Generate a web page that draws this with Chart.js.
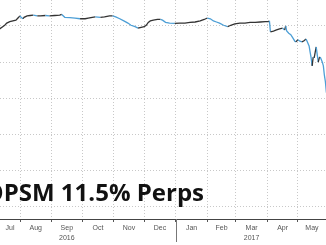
<!DOCTYPE html>
<html>
<head>
<meta charset="utf-8">
<script src="https://cdn.jsdelivr.net/npm/chart.js@4/dist/chart.umd.min.js"></script>
<style>
  html, body { margin: 0; padding: 0; background: #fff; }
  #wrap { width: 326px; height: 245px; }
</style>
</head>
<body>
<div id="wrap"><canvas id="perps" width="326" height="245"></canvas></div>
<script>
/*
 * OPSM 11.5% perps price, Jul 2016 - May 2017
 * x values are days since 1 Jul 2016
 */

const days = [11, 14, 16, 18, 21, 24, 27, 29, 31, 32, 34, 35, 38, 41, 44, 48, 51, 56, 60, 65, 70, 72, 75, 80, 85, 90, 95, 98, 102, 105, 110, 114, 119, 122, 125, 129, 133, 137, 140, 144, 147, 150, 153, 155, 157, 159, 162, 166, 169, 171, 174, 178, 183, 188, 193, 198, 203, 208, 212, 215, 218, 221, 224, 227, 231, 235, 238, 242, 247, 252, 257, 262, 267, 272, 275, 276, 277, 280, 283, 286, 289, 291, 292, 293, 295, 297, 299, 301, 302, 304, 306, 308, 310, 312, 313, 315, 316, 317, 318, 319, 320, 321, 322, 323, 324, 325, 326, 328, 329, 330, 331, 332]
const prices = [99.6, 99.9, 100.1, 100.4, 100.6, 100.7, 100.8, 101.1, 101.4, 101.2, 101.0, 101.2, 101.4, 101.45, 101.5, 101.4, 101.4, 101.45, 101.4, 101.45, 101.5, 101.6, 101.2, 101.15, 101.1, 101.0, 101.0, 101.1, 101.2, 101.25, 101.2, 101.25, 101.4, 101.4, 101.25, 101.0, 100.7, 100.4, 100.1, 99.9, 99.7, 99.8, 99.9, 100.1, 100.5, 100.7, 100.8, 100.9, 100.9, 100.8, 100.5, 100.4, 100.35, 100.4, 100.4, 100.5, 100.55, 100.7, 100.9, 101.1, 101.0, 100.7, 100.55, 100.4, 100.1, 99.9, 100.1, 100.3, 100.4, 100.4, 100.5, 100.5, 100.55, 100.6, 100.6, 100.7, 99.2, 99.3, 99.45, 99.6, 99.7, 99.45, 100.0, 99.3, 99.0, 98.8, 98.35, 97.9, 97.8, 98.1, 97.9, 97.8, 97.95, 98.2, 97.9, 97.25, 96.4, 95.6, 94.5, 95.7, 95.6, 96.4, 97.1, 96.0, 95.0, 95.6, 95.7, 95.0, 94.5, 93.2, 92.3, 90.8]

const monthStarts = [31, 62, 92, 123, 153, 184, 215, 243, 274, 304]
const monthNames = ["Jul", "Aug", "Sep", "Oct", "Nov", "Dec", "Jan", "Feb", "Mar", "Apr", "May"]
const yearLabels = { Sep: "2016", Mar: "2017" }
const yearStart = 184
const gridLevels = [75, 80, 85, 90, 95, 100]

const xMin = 11.35
const xMax = 331.6

// label sits in the middle of the visible part of each month
let edges = [xMin].concat(monthStarts, [xMax])
let monthMids = monthNames.map((m, i) => (edges[i] + edges[i + 1]) / 2)

let points = days.map((d, i) => ({ x: d, y: prices[i] }))

const blue = "#4d9fd6"
const dark = "#333333"

let perpsOverlay = {
    id: "perpsOverlay",
    afterDraw(chart) {
        let ctx = chart.ctx
        let xs = chart.scales.x
        let px = Math.round(xs.getPixelForValue(yearStart)) + 0.5
        ctx.save()
        ctx.strokeStyle = "#777"
        ctx.lineWidth = 1
        ctx.beginPath()
        ctx.moveTo(px, chart.chartArea.bottom)
        ctx.lineTo(px, 242)
        ctx.stroke()

        ctx.fillStyle = "#111"
        ctx.font = "bold 24px 'Open Sans'"
        ctx.textAlign = "right"
        ctx.textBaseline = "alphabetic"
        ctx.fillText("OPSM 11.5% Perps", 204, 201)
        ctx.restore()
    }
}

let perpsConfig = {
    type: "line",
    data: {
        datasets: [{
            data: points,
            borderWidth: 1.3,
            borderColor: dark,
            pointRadius: 0,
            tension: 0,
            segment: {
                borderColor: c => c.p1.parsed.y < c.p0.parsed.y ? blue : dark
            }
        }]
    },
    options: {
        responsive: false,
        animation: false,
        layout: { padding: 0 },
        plugins: { legend: { display: false }, tooltip: { enabled: false } },
        scales: {
            x: {
                type: "linear",
                min: xMin,
                max: xMax,
                afterBuildTicks: s => {
                    let t = monthStarts.map(v => ({ value: v, edge: true }))
                    monthMids.forEach((v, i) => t.push({ value: v, name: monthNames[i] }))
                    t.sort((a, b) => a.value - b.value)
                    s.ticks = t
                },
                afterFit: s => { s.height = 26 },
                grid: {
                    color: c => c.tick && c.tick.edge ? "#c8c8c8" : "rgba(0,0,0,0)",
                    tickColor: c => c.tick && c.tick.edge ? "#555" : "rgba(0,0,0,0)",
                    tickLength: 3,
                    lineWidth: 1
                },
                border: { display: true, color: "#444", width: 1, dash: [1, 2] },
                ticks: {
                    autoSkip: false,
                    maxRotation: 0,
                    padding: 1,
                    color: "#555",
                    font: { family: "'Liberation Sans', Arial", size: 7, lineHeight: 1.4 },
                    callback: (v, i, ticks) => {
                        let n = ticks[i].name
                        if (!n) return ""
                        return yearLabels[n] ? [n, yearLabels[n]] : n
                    }
                }
            },
            y: {
                min: 73.34,
                max: 103.59,
                afterBuildTicks: s => { s.ticks = gridLevels.map(v => ({ value: v })) },
                afterFit: s => { s.width = 0 },
                grid: { color: "#c8c8c8", drawTicks: false, lineWidth: 1 },
                border: { display: false, dash: [1, 2] },
                ticks: { display: false }
            }
        }
    },
    plugins: [perpsOverlay]
}

var perpsCanvas = document.getElementById("perps")

var perpsChart = new Chart(perpsCanvas, perpsConfig)
</script>
</body>
</html>
